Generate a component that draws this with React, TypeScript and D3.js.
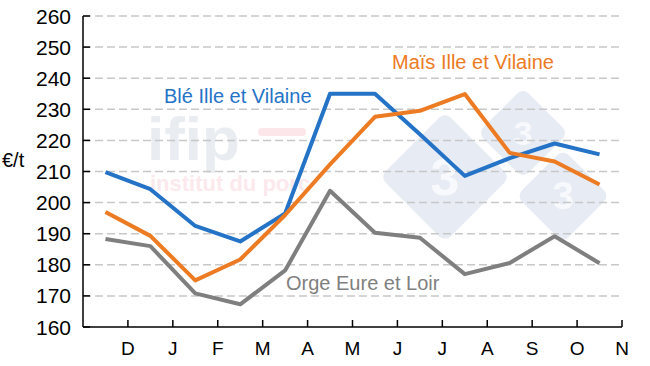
import React from "react";
import * as d3 from "d3";

// monthly prices, points sit mid-month (Nov .. Oct)
const monthLabels = ["D", "J", "F", "M", "A", "M", "J", "J", "A", "S", "O", "N"];
const yTicks = [160, 170, 180, 190, 200, 210, 220, 230, 240, 250, 260];

const ble = [209.8, 204.3, 192.5, 187.5, 196.5, 235, 235, 222, 208.6, 214.3, 219, 215.5];
const mais = [197, 189.3, 175, 181.7, 196, 212.3, 227.6, 229.5, 234.9, 216, 213.2, 205.8];
const orge = [188.3, 186, 170.8, 167.3, 178.2, 203.8, 190.3, 188.7, 177, 180.6, 189.2, 180.5];

const series = [
  { name: "Blé Ille et Vilaine", values: ble, color: "#2473C7", lx: 164, ly: 103 },
  { name: "Maïs Ille et Vilaine", values: mais, color: "#EC7B23", lx: 392, ly: 69 },
  { name: "Orge Eure et Loir", values: orge, color: "#7F7F7F", lx: 286, ly: 290 },
];

const W = 650;
const H = 366;
const left = 83;
const right = 622;
const top = 16;
const bottom = 327;
const font = "'Liberation Sans', Arial, sans-serif";

export default function App() {
  const x = d3.scaleLinear().domain([0, 12]).range([left, right]);
  const y = d3.scaleLinear().domain([160, 260]).range([bottom, top]);
  const line = d3
    .line<number>()
    .x((_, i) => x(i + 0.5))
    .y((d) => y(d));

  const diamonds = [
    { cx: 523, cy: 133, s: 64, fs: 34 },
    { cx: 445, cy: 177, s: 92, fs: 52 },
    { cx: 563, cy: 196, s: 66, fs: 38 },
  ];

  return (
    <svg
      width={W}
      height={H}
      style={{ position: "absolute", left: 0, top: 0, background: "#fff" }}
      fontFamily={font}
    >
      {/* watermark */}
      <g>
        <text x={147} y={160} fontSize={62} fontWeight="bold" fill="#e9ecf1">
          ifip
        </text>
        <rect x={258} y={128} width={48} height={8} rx={4} fill="#fce6e9" />
        <text x={150} y={191} fontSize={22} fontWeight="bold" fill="#fce9ed">
          institut du porc
        </text>
        {diamonds.map((d, i) => (
          <g key={i} transform={`translate(${d.cx},${d.cy})`}>
            <rect
              x={-d.s / 2}
              y={-d.s / 2}
              width={d.s}
              height={d.s}
              rx={8}
              fill="#e7ecf4"
              transform="rotate(45)"
            />
            <text
              x={0}
              y={0}
              fontSize={d.fs}
              fontWeight="bold"
              fill="#f7f9fc"
              textAnchor="middle"
              dominantBaseline="central"
            >
              3
            </text>
          </g>
        ))}
      </g>

      {/* grid */}
      {yTicks.slice(1).map((t) => (
        <line
          key={t}
          x1={left}
          x2={right}
          y1={y(t)}
          y2={y(t)}
          stroke="#c8c8c8"
          strokeWidth={1.5}
          strokeDasharray="8,4"
        />
      ))}

      {/* axes */}
      <line x1={left} x2={left} y1={top} y2={bottom} stroke="#000" strokeWidth={1.5} />
      <line x1={left} x2={right} y1={bottom} y2={bottom} stroke="#000" strokeWidth={1.5} />
      {yTicks.map((t) => (
        <g key={t}>
          <line x1={left} x2={left + 7} y1={y(t)} y2={y(t)} stroke="#000" strokeWidth={1.5} />
          <text
            x={71}
            y={y(t)}
            fontSize={21}
            textAnchor="end"
            dominantBaseline="central"
            fill="#000"
          >
            {t}
          </text>
        </g>
      ))}
      {monthLabels.map((m, i) => (
        <g key={i}>
          <line
            x1={x(i + 1)}
            x2={x(i + 1)}
            y1={bottom}
            y2={bottom - 7}
            stroke="#000"
            strokeWidth={1.5}
          />
          <text x={x(i + 1)} y={355} fontSize={19} textAnchor="middle" fill="#000">
            {m}
          </text>
        </g>
      ))}
      <text x={2} y={167} fontSize={20} fill="#000">
        €/t
      </text>

      {/* series */}
      {series.map((s) => (
        <g key={s.name}>
          <path
            d={line(s.values) || ""}
            fill="none"
            stroke={s.color}
            strokeWidth={4}
            strokeLinejoin="round"
          />
          <text x={s.lx} y={s.ly} fontSize={20} fill={s.color}>
            {s.name}
          </text>
        </g>
      ))}
    </svg>
  );
}
